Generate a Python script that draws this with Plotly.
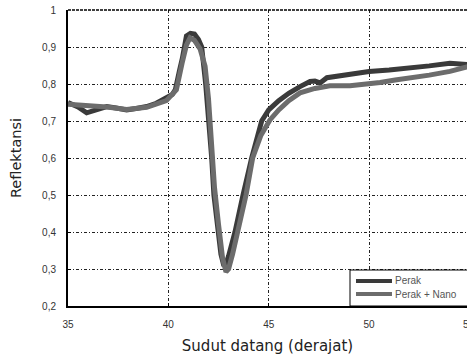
import plotly.graph_objects as go

# Data (x in degrees, y reflectance)
perak_x = [35.0, 35.5, 35.93, 36.4, 36.93, 37.4, 37.92, 38.4, 38.92, 39.4, 39.92, 40.2, 40.35,
           40.45, 40.55, 40.7, 40.9, 41.1, 41.3, 41.5, 41.66, 41.86, 42.03, 42.16, 42.27, 42.46,
           42.62, 42.75, 42.85, 43.0, 43.32, 43.72, 44.15, 44.65, 45.0, 45.5, 46.0, 46.56,
           47.06, 47.3, 47.56, 47.9, 48.5, 49.05, 50.0, 51.0, 52.04, 53.0, 54.03, 55.0]
perak_y = [0.750, 0.738, 0.722, 0.731, 0.739, 0.735, 0.730, 0.734, 0.739, 0.748, 0.762, 0.772, 0.785,
           0.820, 0.835, 0.870, 0.930, 0.937, 0.935, 0.920, 0.900, 0.800, 0.700, 0.600, 0.500, 0.400,
           0.340, 0.312, 0.310, 0.335, 0.400, 0.500, 0.600, 0.700, 0.730, 0.755, 0.775, 0.793,
           0.807, 0.808, 0.803, 0.817, 0.822, 0.829, 0.834, 0.838, 0.843, 0.849, 0.856, 0.852]

nano_x = [35.0, 36.0, 36.93, 37.92, 38.92, 39.9, 40.4, 40.7, 40.9, 41.08, 41.3, 41.58, 41.83,
          42.0, 42.15, 42.3, 42.5, 42.7, 42.87, 43.0, 43.2, 43.47, 43.87, 44.2, 44.6, 45.06,
          45.5, 46.0, 46.56, 47.3, 48.05, 49.05, 50.0, 50.55, 51.3, 52.04, 53.0, 54.03, 55.0]
nano_y = [0.745, 0.742, 0.738, 0.731, 0.737, 0.755, 0.784, 0.860, 0.905, 0.925, 0.918, 0.895, 0.848,
          0.760, 0.640, 0.520, 0.420, 0.330, 0.292, 0.300, 0.340, 0.400, 0.500, 0.600, 0.660, 0.703,
          0.730, 0.755, 0.776, 0.788, 0.795, 0.795, 0.800, 0.804, 0.811, 0.816, 0.824, 0.834, 0.848]

x_ticks = [35, 40, 45, 50]
y_ticks = [0.2, 0.3, 0.4, 0.5, 0.6, 0.7, 0.8, 0.9, 1.0]
series_names = ["Perak", "Perak + Nano"]
series_colors = ["#3a3a3a", "#6c6c6c"]

X_MIN, X_MAX = 35, 54.88

fig = go.Figure()
fig.add_trace(go.Scatter(x=perak_x, y=perak_y, mode="lines", name=series_names[0],
                         line=dict(color=series_colors[0], width=5), showlegend=False))
fig.add_trace(go.Scatter(x=nano_x, y=nano_y, mode="lines", name=series_names[1],
                         line=dict(color=series_colors[1], width=5), showlegend=False))

tickfont = dict(family="Liberation Sans", size=10, color="#333")
grid = dict(showgrid=True, gridcolor="#222", gridwidth=1, griddash="3px,2px,1px,2px")
fig.update_xaxes(range=[X_MIN, X_MAX], tickvals=x_ticks, ticks="inside", ticklen=3,
                 tickcolor="black", showline=True, linecolor="black", linewidth=2,
                 zeroline=False, tickfont=tickfont, ticklabelstandoff=8,
                 title=dict(text="Sudut datang (derajat)", standoff=11,
                            font=dict(family="DejaVu Sans", size=15, color="#222")),
                 **grid)
fig.update_yaxes(range=[0.2, 1.0], tickvals=y_ticks, ticks="inside", ticklen=3,
                 tickcolor="black", showline=True, linecolor="black", linewidth=2,
                 zeroline=False, tickfont=tickfont, ticklabelstandoff=8,
                 title=dict(text="Reflektansi", standoff=17,
                            font=dict(family="DejaVu Sans", size=14.5, color="#222")),
                 **grid)

# top border
fig.add_shape(type="line", xref="paper", yref="paper", x0=0, x1=1, y0=1, y1=1,
              line=dict(color="black", width=1.5, dash="3px,1px"))
# partially visible last tick label (55), cut by the right edge as in the original
fig.add_annotation(x=(55 - X_MIN) / (X_MAX - X_MIN), y=0, xref="paper", yref="paper",
                   xanchor="center", yanchor="top",
                   text="55", showarrow=False, yshift=-11, font=tickfont)

# legend box (manual, compact like the original)
fig.add_shape(type="rect", xref="paper", yref="paper", x0=0.7068, x1=1.05, y0=0.0, y1=0.1216,
              line=dict(color="black", width=1), fillcolor="white", layer="above")
for i, (nm, col) in enumerate(zip(series_names, series_colors)):
    yy = 0.0845 - i * 0.044
    fig.add_shape(type="line", xref="paper", yref="paper", x0=0.7218, x1=0.8120, y0=yy, y1=yy,
                  line=dict(color=col, width=4), layer="above")
    fig.add_annotation(x=0.8135, y=yy, xref="paper", yref="paper", text=nm, showarrow=False,
                       xanchor="left", yanchor="middle",
                       font=dict(family="Liberation Sans", size=10, color="#555"))

fig.update_layout(
    width=467, height=361,
    margin=dict(l=68, r=0, t=10, b=55),
    paper_bgcolor="white", plot_bgcolor="white",
    separators=",.",
    showlegend=False,
)

fig.write_html("out.html")
